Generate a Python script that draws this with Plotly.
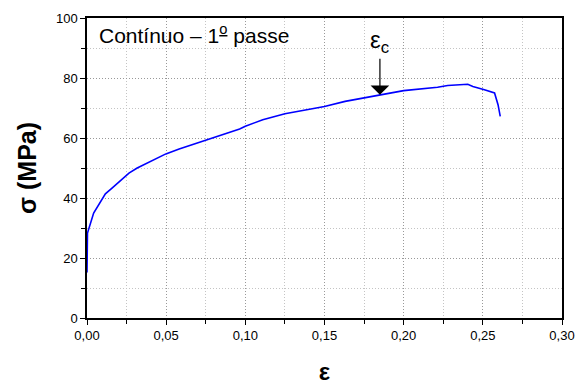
import plotly.graph_objects as go

strain = [0.0, 0.0003, 0.0042, 0.0116, 0.0158, 0.0197, 0.0233, 0.0265, 0.0317, 0.038,
          0.0444, 0.0498, 0.0582, 0.0667, 0.0752, 0.0858, 0.0964, 0.1, 0.111, 0.125,
          0.1366, 0.15, 0.163, 0.175, 0.185, 0.2, 0.2214, 0.2278, 0.2405, 0.2437,
          0.251, 0.2574, 0.2596, 0.261]
stress = [15.2, 28.3, 35.0, 41.4, 43.3, 45.2, 46.7, 48.3, 50.0, 51.7,
          53.3, 54.7, 56.3, 57.8, 59.4, 61.1, 63.0, 63.9, 66.1, 68.1,
          69.2, 70.5, 72.2, 73.3, 74.4, 75.8, 76.9, 77.5, 77.9, 77.2,
          76.1, 75.0, 71.1, 67.2]

eps_c = 0.185
eps_c_stress = 74.4
label_text = "Contínuo – 1<sup><u>o</u></sup> passe"

FONT = "Arial, Liberation Sans, sans-serif"

fig = go.Figure()
fig.add_trace(go.Scatter(x=strain, y=stress, mode="lines",
                         line=dict(color="#0000FF", width=1.6), showlegend=False,
                         hoverinfo="skip"))

fig.add_annotation(x=eps_c, y=eps_c_stress, xref="x", yref="y",
                   text="ε<sub>c</sub>", showarrow=True, arrowhead=1, arrowsize=2.6,
                   arrowwidth=1.2, arrowcolor="black", ax=0, ay=-53,
                   font=dict(family=FONT, size=24, color="black"))
fig.add_annotation(x=0.006, y=94.6, xref="x", yref="y", text=label_text, showarrow=False,
                   xanchor="left", yanchor="middle",
                   font=dict(family=FONT, size=21, color="black"))

axis_common = dict(showline=True, linecolor="black", linewidth=1.5, mirror=True,
                   ticks="outside", ticklen=5, tickwidth=1.2, tickcolor="black",
                   showgrid=True, gridcolor="#999999", griddash="1px,2px", gridwidth=1,
                   zeroline=False, automargin=False,
                   tickfont=dict(family=FONT, size=13, color="black"))

fig.update_xaxes(range=[0, 0.30], dtick=0.05, tick0=0, tickformat=".2f",
                 minor=dict(dtick=0.025, ticks="outside", ticklen=4, tickcolor="black",
                            showgrid=True, gridcolor="#c4c4c4", griddash="1px,2px"),
                 title=dict(text="<b>ε</b>", standoff=22,
                            font=dict(family=FONT, size=24, color="black")),
                 **axis_common)
fig.update_yaxes(range=[0, 100], dtick=20, tick0=0,
                 minor=dict(dtick=10, ticks="outside", ticklen=4, tickcolor="black",
                            showgrid=True, gridcolor="#c4c4c4", griddash="1px,2px"),
                 title=dict(text="<b>σ (MPa)</b>", standoff=12,
                            font=dict(family=FONT, size=25, color="black")),
                 **axis_common)

fig.update_layout(width=576, height=385, separators=",.",
                  margin=dict(l=87, r=14, t=18, b=67),
                  plot_bgcolor="white", paper_bgcolor="white")

fig.write_html("out.html", config={"displayModeBar": False},
               post_script="document.body.style.margin='0';document.body.style.padding='0';")
